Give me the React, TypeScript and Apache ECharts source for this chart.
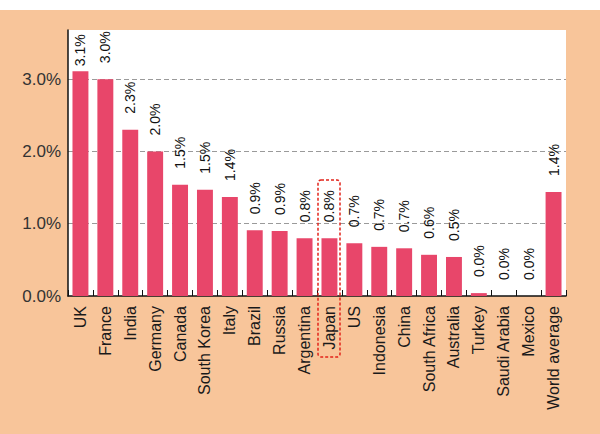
import React, { useEffect, useRef } from "react";
import * as echarts from "echarts";

const countries = [
  "UK", "France", "India", "Germany", "Canada", "South Korea", "Italy", "Brazil", "Russia", "Argentina",
  "Japan", "US", "Indonesia", "China", "South Africa", "Australia", "Turkey", "Saudi Arabia", "Mexico", "World average",
];
const values = [3.11, 3.0, 2.3, 2.0, 1.54, 1.47, 1.37, 0.91, 0.9, 0.8, 0.8, 0.73, 0.68, 0.66, 0.57, 0.54, 0.04, 0, 0, 1.44];
const valueLabels = [
  "3.1%", "3.0%", "2.3%", "2.0%", "1.5%", "1.5%", "1.4%", "0.9%", "0.9%", "0.8%",
  "0.8%", "0.7%", "0.7%", "0.7%", "0.6%", "0.5%", "0.0%", "0.0%", "0.0%", "1.4%",
];
const yTicks = [0, 1, 2, 3];

const App: React.FC = () => {
  const chartRef = useRef<HTMLDivElement>(null);

  useEffect(() => {
    if (!chartRef.current) return;
    const chart = echarts.init(chartRef.current, null, { renderer: "svg" });

    const option = {
      animation: false,
      backgroundColor: "#F8C59A",
      textStyle: { fontFamily: "Liberation Sans, Arial, sans-serif" },
      grid: {
        left: 68,
        top: 20,
        right: 34,
        bottom: 138,
        show: true,
        backgroundColor: "#fff",
        borderWidth: 0,
      },
      xAxis: {
        type: "category",
        data: countries,
        axisLine: { lineStyle: { color: "#111", width: 1.5 } },
        axisTick: { show: true, inside: true, length: 6, lineStyle: { color: "#111", width: 1 } },
        axisLabel: { rotate: 90, fontSize: 16, color: "#1a1a1a", margin: 10, interval: 0 },
      },
      yAxis: {
        type: "value",
        min: yTicks[0],
        max: 3.68,
        interval: 1,
        axisLine: { show: true, lineStyle: { color: "#111", width: 1.5 } },
        axisTick: { show: false },
        axisLabel: {
          fontSize: 17,
          color: "#333",
          margin: 7,
          showMaxLabel: false,
          formatter: (v: number) => v.toFixed(1) + "%",
        },
        splitLine: {
          show: true,
          showMaxLine: false,
          showMinLine: false,
          lineStyle: { color: "#9a9a9a", type: [5, 3], width: 1 },
        },
      },
      series: [
        {
          type: "bar",
          barCategoryGap: "36%",
          itemStyle: { color: "#E8466A" },
          data: values.map((v, i) => ({
            value: v,
            label: {
              formatter: valueLabels[i],
              distance: i === 0 ? 5 : 16,
            },
          })),
          label: {
            show: true,
            position: "top",
            rotate: 90,
            align: "left",
            verticalAlign: "middle",
            fontSize: 14,
            color: "#111",
          },
        },
      ],
      graphic: [
        {
          type: "rect",
          shape: { x: 318, y: 170, width: 22, height: 177, r: 3 },
          style: { fill: "none", stroke: "#E2231A", lineWidth: 1.5, lineDash: [3, 2] },
          z: 100,
        },
      ],
    };

    chart.setOption(option as any);
    return () => {
      chart.dispose();
    };
  }, []);

  return (
    <div style={{ position: "fixed", left: 0, top: 0, width: 600, height: 434, background: "#fff" }}>
      <div ref={chartRef} style={{ position: "absolute", left: 0, top: 10, width: 600, height: 424 }} />
    </div>
  );
};

export default App;
